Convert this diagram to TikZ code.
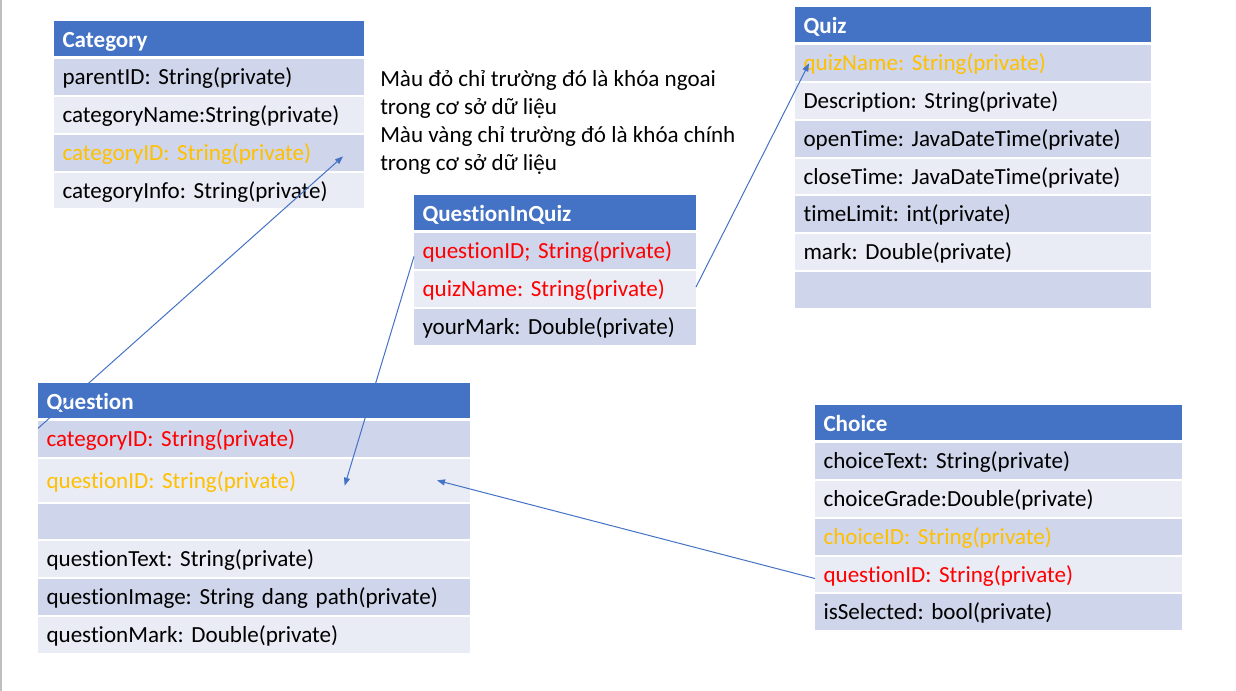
\documentclass[tikz,border=0pt]{standalone}
\usepackage{fontspec}
\setmainfont{Carlito}[Ligatures=NoCommon]
\usetikzlibrary{arrows.meta,positioning}
\definecolor{hdrblue}{HTML}{4472C4}
\definecolor{rowdark}{HTML}{CFD5EA}
\definecolor{rowlight}{HTML}{E9EBF5}
\definecolor{pkey}{HTML}{FFC000}
\definecolor{fkey}{HTML}{FF0000}
\definecolor{edge}{HTML}{BFBFBF}
\frenchspacing

\begin{document}
\begin{tikzpicture}[
  x=0.75pt, y=-0.75pt,
  >={Triangle[length=6pt,width=4.5pt]},
  cell/.style={rectangle, align=left, inner xsep=6.4pt, inner ysep=0pt, outer sep=0pt, minimum height=26.8pt, text height=13.5pt, text depth=2pt, font=\fontsize{17.3pt}{21pt}\selectfont},
  head/.style={cell, fill=hdrblue, text=white, font=\fontsize{17.3pt}{21pt}\selectfont\bfseries, minimum height=26.25pt, text height=14.5pt, text depth=0.5pt, anchor=north west},
  dark/.style={cell, fill=rowdark},
  light/.style={cell, fill=rowlight},
  catcol/.style={text width=219.7pt},
  quizcol/.style={text width=254.2pt},
  qiqcol/.style={text width=198.7pt},
  qcol/.style={text width=311.2pt},
  choicecol/.style={text width=262.45pt},
  note/.style={align=left, inner sep=0pt, anchor=north west, font=\fontsize{17.3pt}{21pt}\selectfont},
  link/.style={->, hdrblue, line width=0.75pt}
]
  \useasboundingbox (0,0) rectangle (1236,691);
  \draw[edge, line width=1.5pt] (1,0) -- (1,691);

  % Category
  \node[head, catcol] (category) at (54,21) {Category};
  \node[dark, catcol, below=2.6pt of category] (catParent) {parentID: String(private)};
  \node[light, catcol, below=1.5pt of catParent] (catName) {categoryName:String(private)};
  \node[dark, catcol, below=1.5pt of catName, text=pkey] (catId) {categoryID: String(private)};
  \node[light, catcol, below=1.5pt of catId] (catInfo) {categoryInfo: String(private)};

  % legend
  \node[note] (legend) at (380,70) {Màu đỏ chỉ trường đó là khóa ngoai\\trong cơ sở dữ liệu\\Màu vàng chỉ trường đó là khóa chính\\trong cơ sở dữ liệu};

  % Quiz
  \node[head, quizcol] (quiz) at (795,7) {Quiz};
  \node[dark, quizcol, below=2.6pt of quiz, text=pkey] (quizName) {quizName: String(private)};
  \node[light, quizcol, below=1.5pt of quizName] (quizDesc) {Description: String(private)};
  \node[dark, quizcol, below=1.5pt of quizDesc] (quizOpen) {openTime: JavaDateTime(private)};
  \node[light, quizcol, below=1.5pt of quizOpen] (quizClose) {closeTime: JavaDateTime(private)};
  \node[dark, quizcol, below=1.5pt of quizClose] (quizLimit) {timeLimit: int(private)};
  \node[light, quizcol, below=1.5pt of quizLimit] (quizMark) {mark: Double(private)};
  \node[dark, quizcol, below=1.5pt of quizMark] (quizEmpty) {};

  % QuestionInQuiz
  \node[head, qiqcol] (qiq) at (414,195) {QuestionInQuiz};
  \node[dark, qiqcol, below=2.6pt of qiq, text=fkey] (qiqQuestion) {questionID; String(private)};
  \node[light, qiqcol, below=1.5pt of qiqQuestion, text=fkey] (qiqQuiz) {quizName: String(private)};
  \node[dark, qiqcol, below=1.5pt of qiqQuiz] (qiqMark) {yourMark: Double(private)};

  % Question
  \node[head, qcol] (question) at (38,383) {Question};
  \node[dark, qcol, below=2.6pt of question, text=fkey] (qCat) {categoryID: String(private)};
  \node[light, qcol, below=1.5pt of qCat, text=pkey, minimum height=31.8pt] (qId) {questionID: String(private)};
  \node[dark, qcol, below=1.5pt of qId] (qEmpty) {};
  \node[light, qcol, below=1.5pt of qEmpty] (qText) {questionText: String(private)};
  \node[dark, qcol, below=1.5pt of qText] (qImage) {questionImage: String dang path(private)};
  \node[light, qcol, below=1.5pt of qImage] (qMark) {questionMark: Double(private)};

  % Choice
  \node[head, choicecol] (choice) at (815,405) {Choice};
  \node[dark, choicecol, below=2.6pt of choice] (chText) {choiceText: String(private)};
  \node[light, choicecol, below=1.5pt of chText] (chGrade) {choiceGrade:Double(private)};
  \node[dark, choicecol, below=1.5pt of chGrade, text=pkey] (chId) {choiceID: String(private)};
  \node[light, choicecol, below=1.5pt of chId, text=fkey] (chQuestion) {questionID: String(private)};
  \node[dark, choicecol, below=1.5pt of chQuestion] (chSelected) {isSelected: bool(private)};

  % keys
  \draw[link] ([yshift=8.25pt]qCat.west) -- ([xshift=-15.75pt,yshift=-2.7pt]catId.east);
  \draw[link] ([yshift=-3.75pt]qiqQuestion.west) -- ([xshift=230pt,yshift=-4pt]qId.west);
  \draw[link] ([yshift=1.5pt]qiqQuiz.east) -- ([xshift=10.5pt]quizName.west);
  \draw[link] ([yshift=-3pt]chQuestion.west) -- ([xshift=-24.75pt]qId.east);
\end{tikzpicture}
\end{document}
